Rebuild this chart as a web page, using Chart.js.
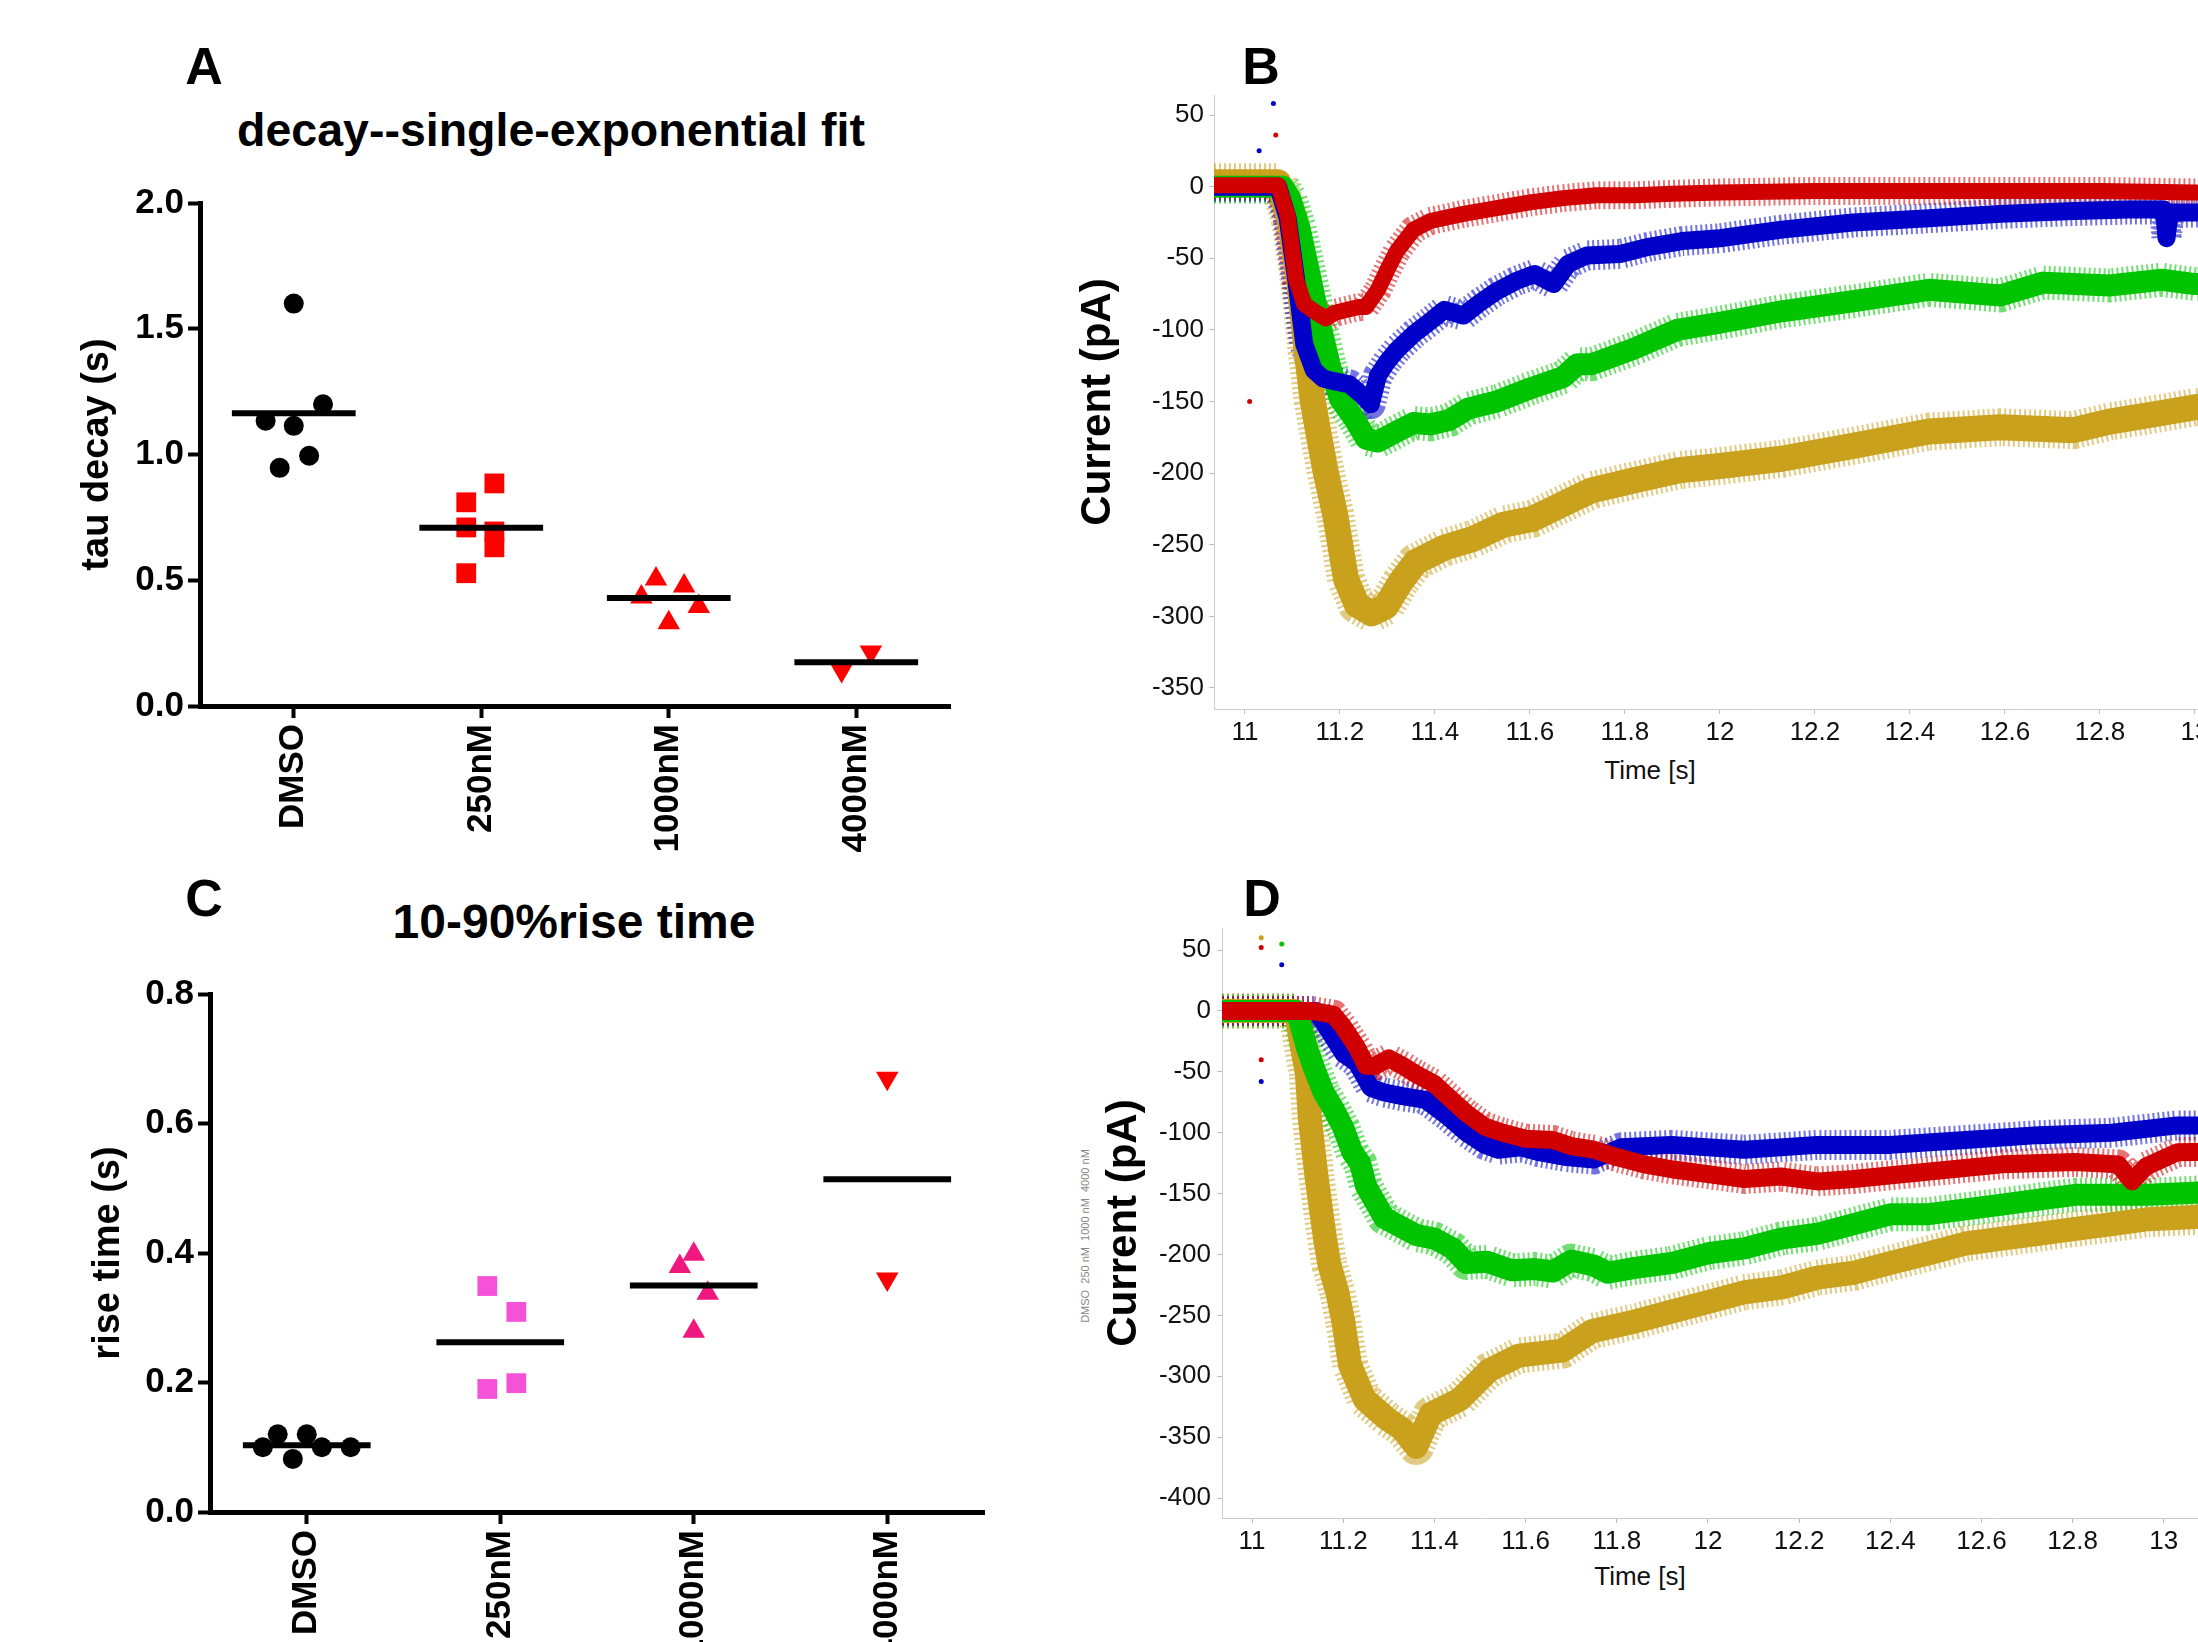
<!DOCTYPE html>
<html>
<head>
<meta charset="utf-8">
<script src="https://cdn.jsdelivr.net/npm/chart.js@4.4.1/dist/chart.umd.min.js"></script>
<style>
html, body { margin:0; padding:0; background:#fff; width:2198px; height:1642px; overflow:hidden; position:relative; font-family:"Liberation Sans", Arial, sans-serif; }
canvas { position:absolute; }
.lbl { position:absolute; transform:translate(-50%,-50%); white-space:nowrap; font-weight:bold; color:#000; }
.axt { position:absolute; transform:translate(-50%,-50%); white-space:nowrap; font-size:26px; color:#111; }
</style>
</head>
<body>
<div class="lbl" style="left:204px;top:66px;font-size:52px">A</div>
<div class="lbl" style="left:1261px;top:66px;font-size:52px">B</div>
<div class="lbl" style="left:204px;top:898px;font-size:52px">C</div>
<div class="lbl" style="left:1262px;top:898px;font-size:52px">D</div>
<div class="lbl" style="left:551px;top:130px;font-size:46.5px">decay--single-exponential fit</div>
<div class="lbl" style="left:574px;top:921px;font-size:48px">10-90%rise time</div>
<div class="lbl" style="left:1085px;top:1236px;font-size:11px;font-weight:normal;color:#888;transform:translate(-50%,-50%) rotate(-90deg)">DMSO&nbsp;&nbsp;250 nM&nbsp;&nbsp;1000 nM&nbsp;&nbsp;4000 nM</div>
<div class="axt" style="left:1650px;top:770px">Time [s]</div>
<div class="axt" style="left:1640px;top:1576px">Time [s]</div>

<canvas id="chartA" width="930" height="700" style="left:40px;top:170px"></canvas>
<canvas id="chartC" width="950" height="712" style="left:50px;top:960px"></canvas>
<canvas id="chartB" width="1260" height="760" style="left:1060px;top:60px"></canvas>
<canvas id="chartD" width="1225" height="732" style="left:1060px;top:880px"></canvas>

<script>
// groups on the x axis of A and C
const groups = ['DMSO', '250nM', '1000nM', '4000nM'];

// A: tau decay (s), values and horizontal scatter offsets
const decayDMSO = [1.60, 1.20, 1.134, 1.114, 0.995, 0.947];
const decayDMSOx = [0, 0.156, -0.15, 0, 0.082, -0.075];
const decay250 = [0.885, 0.810, 0.710, 0.694, 0.631, 0.528];
const decay250x = [0.07, -0.08, -0.08, 0.07, 0.07, -0.08];
const decay1000 = [0.505, 0.477, 0.433, 0.396, 0.331];
const decay1000x = [-0.068, 0.082, -0.146, 0.16, 0];
const decay4000 = [0.215, 0.141];
const decay4000x = [0.078, -0.078];
const decayMeans = [1.164, 0.709, 0.429, 0.174];

// C: 10-90% rise time (s)
const riseDMSO = [0.120, 0.120, 0.100, 0.100, 0.100, 0.082];
const riseDMSOx = [-0.15, 0, -0.227, 0.078, 0.227, -0.072];
const rise250 = [0.349, 0.309, 0.190, 0.199];
const rise250x = [-0.067, 0.083, -0.067, 0.083];
const rise1000 = [0.398, 0.379, 0.338, 0.279];
const rise1000x = [0, -0.072, 0.072, 0];
const rise4000 = [0.670, 0.360];
const rise4000x = [0, 0];
const riseMeans = [0.103, 0.262, 0.350, 0.514];

// B: current traces [time s, current pA]
const bRed = [[10.935,1],[11.0,1],[11.07,1],[11.09,-20],[11.108,-65],[11.125,-82],[11.15,-88],[11.17,-92],[11.19,-88],[11.215,-86],[11.24,-84],[11.255,-84],[11.28,-72],[11.30,-58],[11.32,-45],[11.355,-30],[11.39,-24],[11.46,-19],[11.53,-15],[11.6,-11],[11.67,-8],[11.74,-6],[11.82,-6],[11.9,-5],[12.0,-4],[12.2,-3],[12.4,-3],[12.6,-3],[12.8,-3],[13.0,-4],[13.2,-4]];
const bBlue = [[10.935,0],[11.07,0],[11.09,-22],[11.108,-65],[11.125,-110],[11.145,-128],[11.165,-134],[11.19,-136],[11.22,-138],[11.245,-145],[11.265,-152],[11.28,-132],[11.30,-122],[11.32,-114],[11.355,-103],[11.39,-94],[11.42,-86],[11.46,-90],[11.495,-81],[11.53,-73],[11.57,-66],[11.61,-61],[11.65,-68],[11.68,-54],[11.72,-48],[11.79,-47],[11.85,-42],[11.92,-38],[12.0,-36],[12.13,-30],[12.28,-25],[12.44,-22],[12.59,-19],[12.745,-17],[12.86,-16],[12.935,-16],[12.94,-36],[12.947,-18],[13.0,-18],[13.2,-17]];
const bGreen = [[10.935,0],[11.08,0],[11.095,-8],[11.115,-29],[11.136,-61],[11.157,-94],[11.178,-124],[11.2,-148],[11.23,-162],[11.255,-176],[11.28,-178],[11.32,-171],[11.355,-165],[11.39,-166],[11.43,-163],[11.47,-155],[11.53,-150],[11.6,-141],[11.67,-133],[11.70,-124],[11.73,-124],[11.82,-113],[11.91,-100],[12.0,-95],[12.13,-87],[12.28,-80],[12.44,-72],[12.59,-76],[12.68,-67],[12.82,-69],[12.93,-65],[13.0,-68],[13.2,-68]];
const bGold = [[10.935,3],[11.07,3],[11.094,-22],[11.115,-68],[11.13,-115],[11.143,-150],[11.157,-176],[11.17,-199],[11.19,-229],[11.213,-274],[11.236,-292],[11.267,-298],[11.297,-293],[11.328,-276],[11.36,-262],[11.42,-252],[11.48,-246],[11.544,-236],[11.605,-232],[11.667,-222],[11.73,-212],[11.82,-205],[11.914,-198],[12.0,-195],[12.13,-190],[12.28,-181],[12.44,-171],[12.59,-168],[12.745,-170],[12.82,-164],[12.93,-158],[13.0,-154],[13.2,-152]];
const bSpikes = [[11.06,58],[11.065,36],[11.03,25],[11.01,-150]];
const bSpikeColors = ['#0000c8', '#d00000', '#0000c8', '#d00000'];

// D: current traces [time s, current pA]
const dRed = [[10.934,0],[11.13,0],[11.178,-3],[11.2,-13],[11.23,-30],[11.25,-45],[11.27,-45],[11.3,-39],[11.33,-45],[11.36,-52],[11.4,-60],[11.42,-67],[11.47,-84],[11.51,-95],[11.55,-100],[11.6,-105],[11.66,-106],[11.7,-111],[11.75,-114],[11.8,-120],[11.86,-126],[11.92,-130],[12.0,-134],[12.08,-138],[12.16,-136],[12.24,-140],[12.32,-138],[12.48,-132],[12.645,-126],[12.805,-124],[12.9,-126],[12.93,-140],[12.96,-128],[13.03,-116],[13.2,-115]];
const dBlue = [[10.934,0],[11.14,0],[11.178,-22],[11.2,-35],[11.23,-43],[11.26,-63],[11.29,-67],[11.33,-70],[11.38,-73],[11.43,-87],[11.47,-100],[11.51,-110],[11.54,-114],[11.59,-112],[11.63,-116],[11.69,-120],[11.75,-122],[11.81,-112],[11.92,-110],[12.08,-114],[12.24,-110],[12.4,-110],[12.565,-106],[12.725,-102],[12.886,-100],[13.03,-94],[13.2,-94]];
const dGreen = [[10.934,0],[11.098,0],[11.12,-30],[11.135,-46],[11.157,-67],[11.178,-80],[11.2,-96],[11.22,-116],[11.237,-125],[11.25,-144],[11.27,-157],[11.29,-170],[11.32,-176],[11.36,-184],[11.4,-187],[11.44,-195],[11.47,-207],[11.515,-206],[11.57,-213],[11.62,-212],[11.66,-214],[11.7,-205],[11.75,-209],[11.78,-215],[11.84,-211],[11.92,-207],[12.0,-199],[12.08,-195],[12.16,-187],[12.24,-183],[12.32,-175],[12.4,-167],[12.48,-167],[12.565,-163],[12.645,-159],[12.725,-155],[12.806,-151],[12.886,-151],[12.966,-151],[13.2,-147]];
const dGold = [[10.934,0],[11.095,0],[11.12,-51],[11.127,-89],[11.135,-116],[11.142,-138],[11.15,-160],[11.16,-187],[11.17,-209],[11.187,-231],[11.2,-255],[11.215,-291],[11.247,-319],[11.296,-335],[11.328,-343],[11.36,-358],[11.392,-331],[11.456,-319],[11.52,-295],[11.585,-283],[11.68,-279],[11.745,-263],[11.84,-255],[11.92,-247],[12.0,-239],[12.08,-231],[12.163,-227],[12.24,-219],[12.32,-215],[12.4,-207],[12.484,-199],[12.565,-191],[12.645,-187],[12.725,-183],[12.806,-179],[12.886,-175],[12.966,-171],[13.2,-167]];
const dSpikes = [[11.02,60],[11.02,52],[11.065,55],[11.02,-58],[11.02,-40],[11.065,38]];
const dSpikeColors = ['#c9a11c', '#d00000', '#00c400', '#0000c8', '#d00000', '#0000c8'];

const family = '"Liberation Sans", Arial, sans-serif';
const RED = '#d00000', BLUE = '#0000c8', GREEN = '#00c400', GOLD = '#c9a11c';

// ---------- dot plots (A, C) ----------
function groupPoints(vals, offs, gi) {
    return vals.map((v, i) => ({ x: gi + offs[i], y: v }));
}

function meanLines(means) {
    return means.map((m, i) => ({
        type: 'line',
        data: [{ x: i - 0.33, y: m }, { x: i + 0.33, y: m }],
        borderColor: '#000',
        borderWidth: 6,
        pointRadius: 0,
        order: 0
    }));
}

function dotSet(data, color, style, radius, rotation) {
    return {
        type: 'scatter',
        data: data,
        pointStyle: style,
        pointRadius: radius,
        pointRotation: rotation || 0,
        backgroundColor: color,
        borderColor: color,
        borderWidth: 0,
        order: 1
    };
}

function dotOptions(yMax, yStep, yTitle, titlePad, pad) {
    const axisGrid = { drawOnChartArea: false, drawTicks: true, tickLength: 12, tickWidth: 4, tickColor: '#000' };
    const axisBorder = { display: true, width: 5, color: '#000' };
    return {
        responsive: false,
        animation: false,
        devicePixelRatio: 1,
        layout: { padding: pad },
        plugins: { legend: { display: false }, tooltip: { enabled: false } },
        scales: {
            x: {
                type: 'linear', min: -0.5, max: 3.5,
                afterBuildTicks: s => { s.ticks = groups.map((g, i) => ({ value: i })); },
                afterFit: s => { s.height = 150; },
                ticks: {
                    callback: v => groups[v],
                    minRotation: 90, maxRotation: 90, autoSkip: false, padding: 6,
                    color: '#000', font: { family: family, size: 35, weight: 'bold' }
                },
                grid: axisGrid,
                border: axisBorder
            },
            y: {
                min: 0, max: yMax,
                afterFit: s => { s.width = 160; },
                ticks: {
                    stepSize: yStep, padding: 4,
                    callback: v => v.toFixed(1),
                    color: '#000', font: { family: family, size: 35, weight: 'bold' }
                },
                grid: axisGrid,
                border: axisBorder,
                title: {
                    display: true, text: yTitle, color: '#000',
                    font: { family: family, size: 38, weight: 'bold' },
                    padding: { top: titlePad, bottom: 0 }
                }
            }
        }
    };
}

new Chart(document.getElementById('chartA'), {
    type: 'scatter',
    data: {
        datasets: [
            ...meanLines(decayMeans),
            dotSet(groupPoints(decayDMSO, decayDMSOx, 0), '#000', 'circle', 10),
            dotSet(groupPoints(decay250, decay250x, 1), '#ff0000', 'rect', 14),
            dotSet(groupPoints(decay1000, decay1000x, 2), '#ff0000', 'triangle', 13),
            dotSet(groupPoints(decay4000, decay4000x, 3), '#ff0000', 'triangle', 13, 180)
        ]
    },
    options: dotOptions(2.0, 0.5, 'tau decay (s)', 35, { top: 33, right: 20, bottom: 14, left: 0 })
});

new Chart(document.getElementById('chartC'), {
    type: 'scatter',
    data: {
        datasets: [
            ...meanLines(riseMeans),
            dotSet(groupPoints(riseDMSO, riseDMSOx, 0), '#000', 'circle', 10),
            dotSet(groupPoints(rise250, rise250x, 1), '#f652d8', 'rect', 14),
            dotSet(groupPoints(rise1000, rise1000x, 2), '#f0177e', 'triangle', 13),
            dotSet(groupPoints(rise4000, rise4000x, 3), '#ff0000', 'triangle', 13, 180)
        ]
    },
    options: dotOptions(0.8, 0.2, 'rise time (s)', 36, { top: 34, right: 16, bottom: 10, left: 0 })
});

// ---------- current traces (B, D) ----------
function toXY(arr) {
    return arr.map(p => ({ x: p[0], y: p[1] }));
}

function alpha(hex, a) {
    const n = parseInt(hex.slice(1), 16);
    return `rgba(${n >> 16},${(n >> 8) & 255},${n & 255},${a})`;
}

// dense core of each noisy trace, plus a speckled halo for the scattered samples
function traceSets(traces, spikes, spikeColors) {
    const sets = [];
    traces.forEach((t, i) => {
        sets.push({ type: 'line', data: toXY(t.data), borderColor: t.color, borderWidth: t.width,
            pointRadius: 0, tension: 0, borderJoinStyle: 'round', borderCapStyle: 'butt', order: i + 1 });
    });
    traces.forEach((t, i) => {
        sets.push({ type: 'line', data: toXY(t.data), borderColor: alpha(t.color, 0.55), borderWidth: t.width + 12,
            borderDash: [2, 3], pointRadius: 0, tension: 0, borderJoinStyle: 'round', order: i + 10 });
    });
    sets.push({ type: 'scatter', data: toXY(spikes), pointRadius: 2.5, backgroundColor: spikeColors, borderWidth: 0, order: 0 });
    return sets;
}

function traceOptions(xMin, yMin, yMax, yWidth, xHeight, titlePad, labelPad, pad) {
    return {
        responsive: false,
        animation: false,
        devicePixelRatio: 1,
        layout: { padding: pad },
        plugins: { legend: { display: false }, tooltip: { enabled: false } },
        scales: {
            x: {
                type: 'linear', min: xMin, max: 13.2,
                afterFit: s => { s.height = xHeight; },
                ticks: {
                    stepSize: 0.2, includeBounds: false, padding: 3, maxRotation: 0, autoSkip: false,
                    callback: v => String(Number(v.toFixed(1))),
                    color: '#111', font: { family: family, size: 26 }
                },
                grid: { drawOnChartArea: false, drawTicks: true, tickLength: 5, tickWidth: 1, tickColor: '#bbb' },
                border: { display: true, width: 1, color: '#ccc' }
            },
            y: {
                min: yMin, max: yMax,
                afterFit: s => { s.width = yWidth; },
                ticks: {
                    stepSize: 50, includeBounds: false, padding: labelPad,
                    callback: v => String(v),
                    color: '#111', font: { family: family, size: 26 }
                },
                grid: { drawOnChartArea: false, drawTicks: true, tickLength: 5, tickWidth: 1, tickColor: '#bbb' },
                border: { display: true, width: 1, color: '#ccc' },
                title: { display: true, text: 'Current (pA)', color: '#000', font: { family: family, size: 42, weight: 'bold' }, padding: { top: titlePad, bottom: 0 } }
            }
        }
    };
}

new Chart(document.getElementById('chartB'), {
    type: 'line',
    data: {
        datasets: traceSets([
            { data: bRed, color: RED, width: 16 },
            { data: bBlue, color: BLUE, width: 18 },
            { data: bGreen, color: GREEN, width: 22 },
            { data: bGold, color: GOLD, width: 26 }
        ], bSpikes, bSpikeColors)
    },
    options: traceOptions(10.935, -364.7, 64, 154, 77, 13, 5, { top: 35, right: 30, bottom: 34, left: 0 })
});

new Chart(document.getElementById('chartD'), {
    type: 'line',
    data: {
        datasets: traceSets([
            { data: dRed, color: RED, width: 18 },
            { data: dBlue, color: BLUE, width: 18 },
            { data: dGreen, color: GREEN, width: 22 },
            { data: dGold, color: GOLD, width: 24 }
        ], dSpikes, dSpikeColors)
    },
    options: traceOptions(10.934, -416.4, 68.1, 162, 74, 39, 6, { top: 48, right: 30, bottom: 20, left: 0 })
});
</script>
</body>
</html>
